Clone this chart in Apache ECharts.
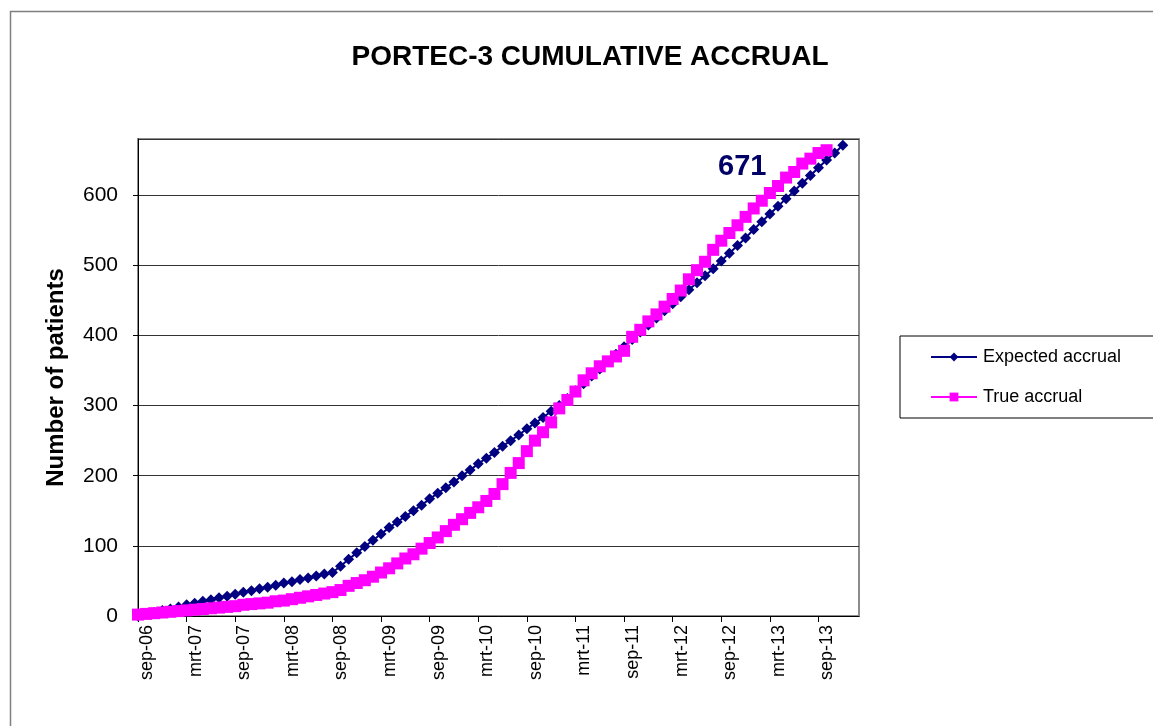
<!DOCTYPE html>
<html>
<head>
<meta charset="utf-8">
<script src="https://cdn.jsdelivr.net/npm/echarts@6/dist/echarts.min.js"></script>
<style>
html,body{margin:0;padding:0;background:#fff;}
#chart{width:1153px;height:726px;}
</style>
</head>
<body>
<div id="chart"></div>
<script>
// Monthly categories sep-06 .. feb-14 (Dutch month abbreviations)
const monthNames = ['jan','feb','mrt','apr','mei','jun','jul','aug','sep','okt','nov','dec'];
const categories = [];
for (let y = 2006, m = 8; !(y === 2014 && m === 2); ) {
  categories.push(monthNames[m] + '-' + String(y % 100).padStart(2, '0'));
  m++; if (m === 12) { m = 0; y++; }
}

const expectedAccrual = [
  0, 2.6, 5, 8, 10, 13, 16, 18, 21, 23, 26, 28, 31, 34, 36, 39, 41, 44, 47, 49, 52, 54, 57, 60, 62,
  71, 81, 90, 99, 108, 117, 126, 134, 142, 150, 158, 167, 175, 183, 191, 200, 208, 217, 225, 233,
  242, 250, 258, 267, 275, 283, 292, 300, 310, 321, 331, 342, 352, 363, 373, 384, 394, 405, 415,
  425, 435, 445, 455, 465, 475, 485, 495, 506, 517, 528, 539, 551, 562, 573, 584, 595, 606, 617,
  628, 639, 650, 660, 671
];

const trueAccrual = [
  2, 3, 4, 5, 6, 7, 8, 9, 10, 11, 12, 13, 14, 16, 17, 18, 19, 21, 22, 24, 26, 28, 30, 32, 34,
  37, 43, 47, 51, 56, 62, 68, 75, 82, 88, 96, 104, 112, 121, 130, 138, 147, 155, 164, 174,
  188, 204, 218, 235, 250, 262, 276, 296, 308, 320, 336, 346, 356, 363, 370, 378, 398, 408, 420,
  430, 441, 452, 464, 480, 493, 505, 522, 535, 546, 557, 569, 581, 592, 603, 613, 625, 633, 645,
  652, 660, 664
];

const yTicks = { min: 0, max: 680, interval: 100 };
const titleText = 'PORTEC-3 CUMULATIVE ACCRUAL';
const yAxisName = 'Number of patients';
const seriesNames = ['Expected accrual', 'True accrual'];
const annotation = '671';

const chart = echarts.init(document.getElementById('chart'));
const FONT = '"Liberation Sans", Arial, sans-serif';

chart.setOption({
  backgroundColor: '#fff',
  animation: false,
  textStyle: { fontFamily: FONT },
  title: {
    text: titleText,
    left: 585, top: 38, textAlign: 'center',
    textStyle: { fontFamily: FONT, fontSize: 28, fontWeight: 'bold', color: '#000' }
  },
  graphic: [
    { type: 'rect', shape: { x: 10.5, y: 11.5, width: 1300, height: 900 },
      style: { fill: 'none', stroke: '#7f7f7f', lineWidth: 1.5 }, z: -1 },
    { type: 'text', left: 718, top: 152,
      style: { text: annotation, fill: '#000066', font: 'bold 29px ' + FONT } }
  ],
  legend: {
    orient: 'vertical',
    left: 900, top: 336,
    padding: [12, 60, 12, 30],
    itemGap: 22,
    itemWidth: 46, itemHeight: 11,
    borderColor: '#000', borderWidth: 1,
    textStyle: { fontFamily: FONT, fontSize: 18, color: '#000', padding: [0, 0, 0, 1] },
    data: seriesNames
  },
  grid: {
    left: 138, top: 139, right: 294, bottom: 110,
    show: true, borderColor: '#8c8c8c', borderWidth: 2, backgroundColor: '#fff'
  },
  xAxis: {
    type: 'category',
    data: categories,
    boundaryGap: false,
    axisLine: { lineStyle: { color: '#000', width: 1 } },
    axisTick: { interval: 5, length: 6, lineStyle: { color: '#000' } },
    axisLabel: { interval: 5, rotate: 90, fontSize: 18, color: '#000', margin: 9, fontFamily: FONT,
                 verticalAlign: 'top' },
    splitLine: { show: false }
  },
  yAxis: {
    type: 'value',
    min: yTicks.min, max: yTicks.max, interval: yTicks.interval,
    name: yAxisName,
    nameLocation: 'middle', nameGap: 70, nameRotate: 90,
    nameTextStyle: { fontFamily: FONT, fontSize: 24, fontWeight: 'bold', color: '#000' },
    axisLine: { show: true, lineStyle: { color: '#000' } },
    axisTick: { show: true, length: 5, lineStyle: { color: '#000' } },
    axisLabel: { fontSize: 21, color: '#000', margin: 20, showMaxLabel: false, fontFamily: FONT },
    splitLine: { lineStyle: { color: '#333', width: 1 } }
  },
  series: [
    {
      name: seriesNames[0], type: 'line', data: expectedAccrual,
      symbol: 'diamond', symbolSize: 11, showAllSymbol: true,
      lineStyle: { color: '#000080', width: 2 },
      itemStyle: { color: '#000080' }, z: 2
    },
    {
      name: seriesNames[1], type: 'line', data: trueAccrual,
      symbol: 'rect', symbolSize: 12, showAllSymbol: true,
      lineStyle: { color: '#ff00ff', width: 2 },
      itemStyle: { color: '#ff00ff' }, z: 3
    }
  ]
});
</script>
</body>
</html>
